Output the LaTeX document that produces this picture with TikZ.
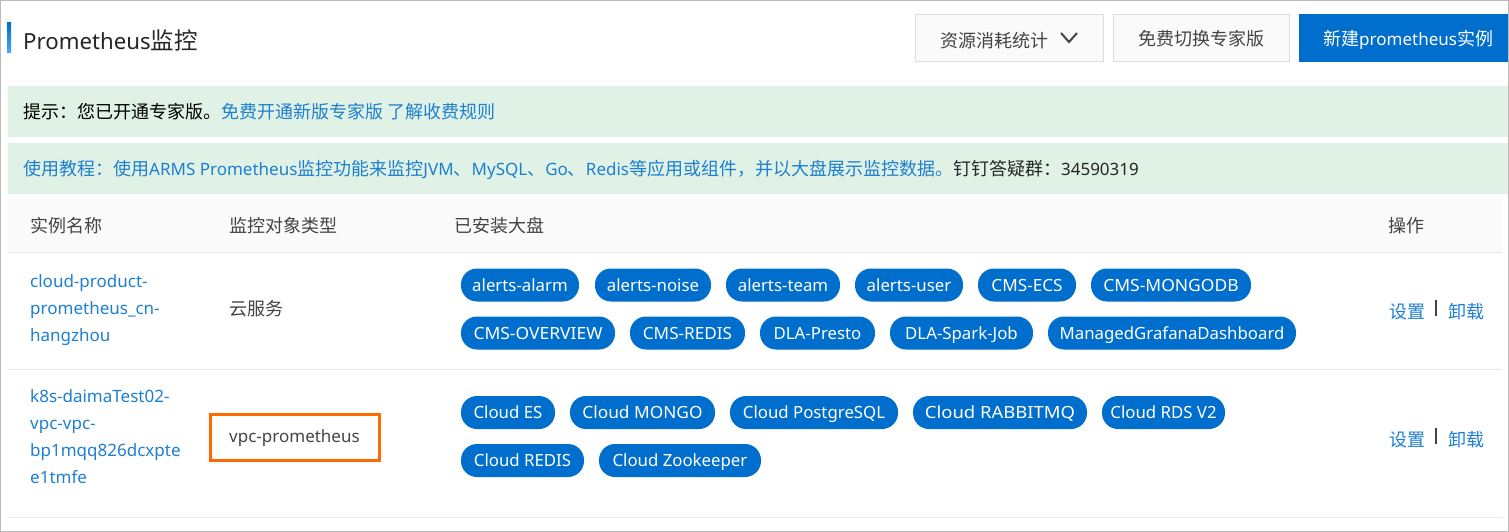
\documentclass[tikz,border=0pt]{standalone}
\usepackage{fontspec}
\setmainfont{Noto Sans}
\newfontfamily\cjk[Scale=1.0588]{Noto Sans CJK SC}
\newcommand{\zh}[1]{{\cjk #1}}
\newcommand{\widen}[2]{\scalebox{#1}[1]{#2}}
\definecolor{linkblue}{HTML}{1F7FD0}
\definecolor{darkblue}{HTML}{006ECC}
\definecolor{tipgreen}{HTML}{DFF2E5}
\definecolor{textgray}{HTML}{444444}
\definecolor{rulegray}{HTML}{E8E8E8}
\definecolor{framegray}{HTML}{BBBBBB}
\definecolor{btngray}{HTML}{FAFAFA}
\definecolor{btnline}{HTML}{DDDDDD}
\definecolor{markorange}{HTML}{FF6A00}
\begin{document}
\begin{tikzpicture}[x=1pt,y=-1pt]
	\tikzset{tagpill/.style = {shape=rectangle, rounded corners=16pt, fill=darkblue, text=white, minimum height=33pt, inner sep=0pt, text height=13.5pt, text depth=1.5pt, font=\fontsize{16.8}{20}\selectfont}}
	\tikzset{btnbox/.style = {shape=rectangle, draw=btnline, fill=btngray, minimum height=47pt, inner sep=0pt}}
	\tikzset{cell/.style = {anchor=west, inner sep=0pt, text=textgray, font=\fontsize{17}{20}\selectfont}}
	\tikzset{linkcell/.style = {cell, text=linkblue, align=left, font=\fontsize{17}{27}\selectfont}}
	\tikzset{tipbar/.style = {shape=rectangle, fill=tipgreen, minimum width=1500pt, minimum height=51pt, inner sep=0pt}}

	\useasboundingbox (0,0) rectangle (1509,532);
	\fill[white] (0,0) rectangle (1509,532);

	% title
	\shade[top color=darkblue, bottom color=cyan!50!blue!70] (7,23) rectangle (11,53);
	\node[cell, text=black!85, font=\fontsize{22.2}{28}\selectfont] (title) at (23,40) {Prometheus\zh{监控}};

	% buttons
	\node[btnbox, minimum width=188pt] (stats) at (1009.5,38) {};
	\node[cell] (statstext) at (940,41) {\zh{资源消耗统计}};
	\draw[textgray, line width=2pt] (1061,33) -- (1069,42) -- (1077,33);
	\node[btnbox, minimum width=176pt] (free) at (1201.5,38) {};
	\node[cell] (freetext) at (1138,38.5) {\zh{免费切换专家版}};
	\node[btnbox, draw=none, fill=darkblue, minimum width=210pt, minimum height=48pt] (create) at (1404,38) {};
	\node[cell, text=white] (createtext) at (1323,40) {\zh{新建}prometheus\zh{实例}};

	% tips
	\node[tipbar] (tipa) at (758,111.5) {};
	\node[tipbar] (tipb) at (758,168.5) {};
	\node[cell, text=black] (tipatext) at (23,111.5) {\zh{提示：您已开通专家版。}\textcolor{linkblue}{\zh{免费开通新版专家版 了解收费规则}}};
	\node[cell, text=black!85] (tipbtext) at (23,169.5) {\textcolor{linkblue}{\zh{使用教程：使用}ARMS Prometheus\zh{监控功能来监控}JVM\zh{、}MySQL\zh{、}Go\zh{、}Redis\zh{等应用或组件，并以大盘展示监控数据。}}\zh{钉钉答疑群：}34590319};

	% table head
	\fill[btngray] (8,199) rectangle (1502,252);
	\node[cell] (headname) at (30,225.5) {\zh{实例名称}};
	\node[cell] (headtype) at (229,225.5) {\zh{监控对象类型}};
	\node[cell] (headdash) at (454,225.5) {\zh{已安装大盘}};
	\node[cell] (headop) at (1388,225.5) {\zh{操作}};
	\draw[rulegray, line width=1.2pt] (8,252.5) -- (1502,252.5);
	\draw[rulegray, line width=1.2pt] (8,369.5) -- (1502,369.5);
	\draw[rulegray, line width=1.2pt] (8,517.5) -- (1502,517.5);

	% first row
	\node[linkcell] (namea) at (30,310.5) {cloud-product-\\prometheus\_cn-\\hangzhou};
	\node[cell] (typea) at (229,309) {\zh{云服务}};
	\node[tagpill, minimum width=118pt] (pa) at (520,285) {alerts-alarm};
	\node[tagpill, minimum width=116pt] (pb) at (653,285) {alerts-noise};
	\node[tagpill, minimum width=114pt] (pc) at (783,285) {alerts-team};
	\node[tagpill, minimum width=108pt] (pd) at (909,285) {alerts-user};
	\node[tagpill, minimum width=98pt] (pe) at (1027,285) {\widen{1.02}{CMS-ECS}};
	\node[tagpill, minimum width=160pt] (pf) at (1171,285) {\widen{1.04}{CMS-MONGODB}};
	\node[tagpill, minimum width=154pt] (pg) at (538,333) {\widen{1.04}{CMS-OVERVIEW}};
	\node[tagpill, minimum width=115pt] (ph) at (687.5,333) {\widen{1.02}{CMS-REDIS}};
	\node[tagpill, minimum width=115pt] (pi) at (817.5,333) {DLA-Presto};
	\node[tagpill, minimum width=143pt] (pj) at (961.5,333) {DLA-Spark-Job};
	\node[tagpill, minimum width=248pt] (pk) at (1172,333) {ManagedGrafanaDashboard};
	\node[cell, text=linkblue] (seta) at (1389,311.5) {\zh{设置}};
	\draw[textgray, line width=1.2pt] (1436,300) -- (1436,316);
	\node[cell, text=linkblue] (dela) at (1448,311.5) {\zh{卸载}};

	% second row
	\node[linkcell] (nameb) at (30,437) {k8s-daimaTest02-\\vpc-vpc-\\bp1mqq826dcxpte\\e1tmfe};
	\node[cell] (typeb) at (229,438) {vpc-prometheus};
	\node[draw=markorange, line width=3pt, minimum width=169pt, minimum height=46pt, inner sep=0pt] (mark) at (295,437.3) {};
	\node[tagpill, minimum width=94pt] (qa) at (508,412.5) {Cloud ES};
	\node[tagpill, minimum width=145pt] (qb) at (642.5,412.5) {\widen{1.03}{Cloud MONGO}};
	\node[tagpill, minimum width=168pt] (qc) at (814,412.5) {Cloud PostgreSQL};
	\node[tagpill, minimum width=174pt] (qd) at (1000,412.5) {\widen{1.1}{Cloud RABBITMQ}};
	\node[tagpill, minimum width=123pt] (qe) at (1163.5,412.5) {Cloud RDS V2};
	\node[tagpill, minimum width=123pt] (qf) at (522.5,460.5) {Cloud REDIS};
	\node[tagpill, minimum width=162pt] (qg) at (680,460.5) {Cloud Zookeeper};
	\node[cell, text=linkblue] (setb) at (1389,439.5) {\zh{设置}};
	\draw[textgray, line width=1.2pt] (1436,428) -- (1436,444);
	\node[cell, text=linkblue] (delb) at (1448,439.5) {\zh{卸载}};

	% frame
	\draw[framegray, line width=1.2pt] (0.6,0.6) rectangle (1508.4,531.4);
\end{tikzpicture}
\end{document}
